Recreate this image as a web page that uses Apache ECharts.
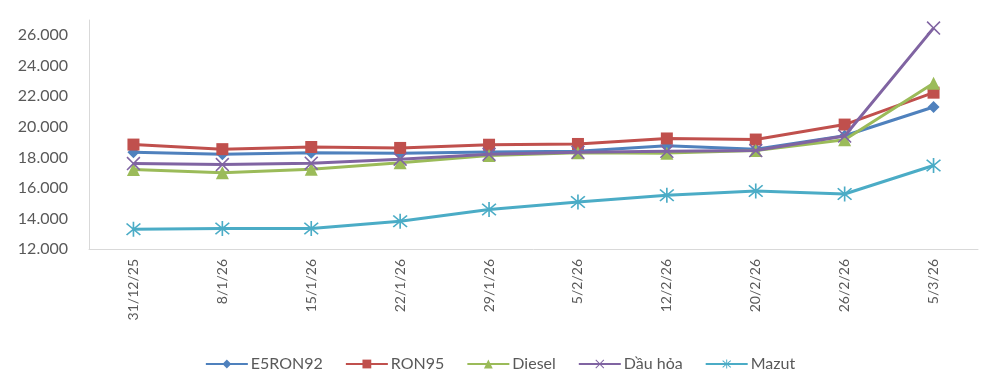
<!DOCTYPE html>
<html>
<head>
<meta charset="utf-8">
<script src="https://cdn.jsdelivr.net/npm/echarts@6/dist/echarts.min.js"></script>
<style>html,body{margin:0;padding:0;background:#fff}#c{width:1000px;height:390px}</style>
</head>
<body>
<div id="c"></div>
<script>
const categories = ['31/12/25','8/1/26','15/1/26','22/1/26','29/1/26','5/2/26','12/2/26','20/2/26','26/2/26','5/3/26'];
const e5ron92 = [18330, 18200, 18300, 18280, 18350, 18400, 18760, 18540, 19420, 21300];
const ron95   = [18840, 18540, 18680, 18620, 18830, 18880, 19240, 19170, 20150, 22240];
const diesel  = [17200, 17000, 17220, 17650, 18120, 18300, 18280, 18450, 19150, 22850];
const dauhoa  = [17600, 17530, 17620, 17880, 18200, 18330, 18400, 18450, 19400, 26470];
const mazut   = [13290, 13350, 13340, 13820, 14590, 15080, 15520, 15800, 15600, 17470];
const seriesNames = ['E5RON92','RON95','Diesel','Dầu hỏa','Mazut'];

const xPath = 'path://M0,0.8 L0.8,0 L5,4.2 L9.2,0 L10,0.8 L5.8,5 L10,9.2 L9.2,10 L5,5.8 L0.8,10 L0,9.2 L4.2,5 Z';
const starPath = 'path://M0,0.8 L0.8,0 L5,4.2 L9.2,0 L10,0.8 L5.8,5 L10,9.2 L9.2,10 L5,5.8 L0.8,10 L0,9.2 L4.2,5 Z M4.45,-1 L5.55,-1 L5.55,11 L4.45,11 Z';

const colors = ['#4F81BD','#C0504D','#9BBB59','#8064A2','#4BACC6'];
const symbols = ['diamond','rect','triangle', xPath, starPath];
const sizes = [12, 12, 13, 14, 15];
const datas = [e5ron92, ron95, diesel, dauhoa, mazut];

const chart = echarts.init(document.getElementById('c'), null, {renderer:'canvas'});
chart.setOption({
  animation: false,
  color: colors,
  textStyle: {fontFamily: 'Lato'},
  grid: {left: 89, right: 22, top: 20, bottom: 141, containLabel: false},
  legend: {
    bottom: 13, left: 'center',
    itemWidth: 42, itemHeight: 11, itemGap: 22,
    textStyle: {fontFamily: 'Lato', fontSize: 16, color: '#595959', padding: [0, 0, 0, -2]},
    data: seriesNames
  },
  xAxis: {
    type: 'category', data: categories, boundaryGap: true,
    axisLine: {show: true, lineStyle: {color: '#d9d9d9', width: 1}},
    axisTick: {show: false},
    axisLabel: {rotate: 90, margin: 10, fontFamily: 'Lato', fontSize: 14, color: '#595959', interval: 0}
  },
  yAxis: {
    type: 'value', min: 12000, max: 27000, interval: 2000,
    axisLine: {show: true, lineStyle: {color: '#d9d9d9', width: 1}},
    axisTick: {show: false},
    splitLine: {show: false},
    axisLabel: {
      margin: 21, fontFamily: 'Lato', fontSize: 16, color: '#595959',
      formatter: v => (v % 2000 === 0) ? (v/1000).toFixed(3) : ''
    }
  },
  series: datas.map((d, i) => ({
    name: seriesNames[i], type: 'line', data: d,
    symbol: symbols[i], symbolSize: sizes[i], showAllSymbol: true,
    lineStyle: {width: 3, color: colors[i]},
    itemStyle: {color: colors[i]},
    z: 2 + i
  }))
});
</script>
</body>
</html>
